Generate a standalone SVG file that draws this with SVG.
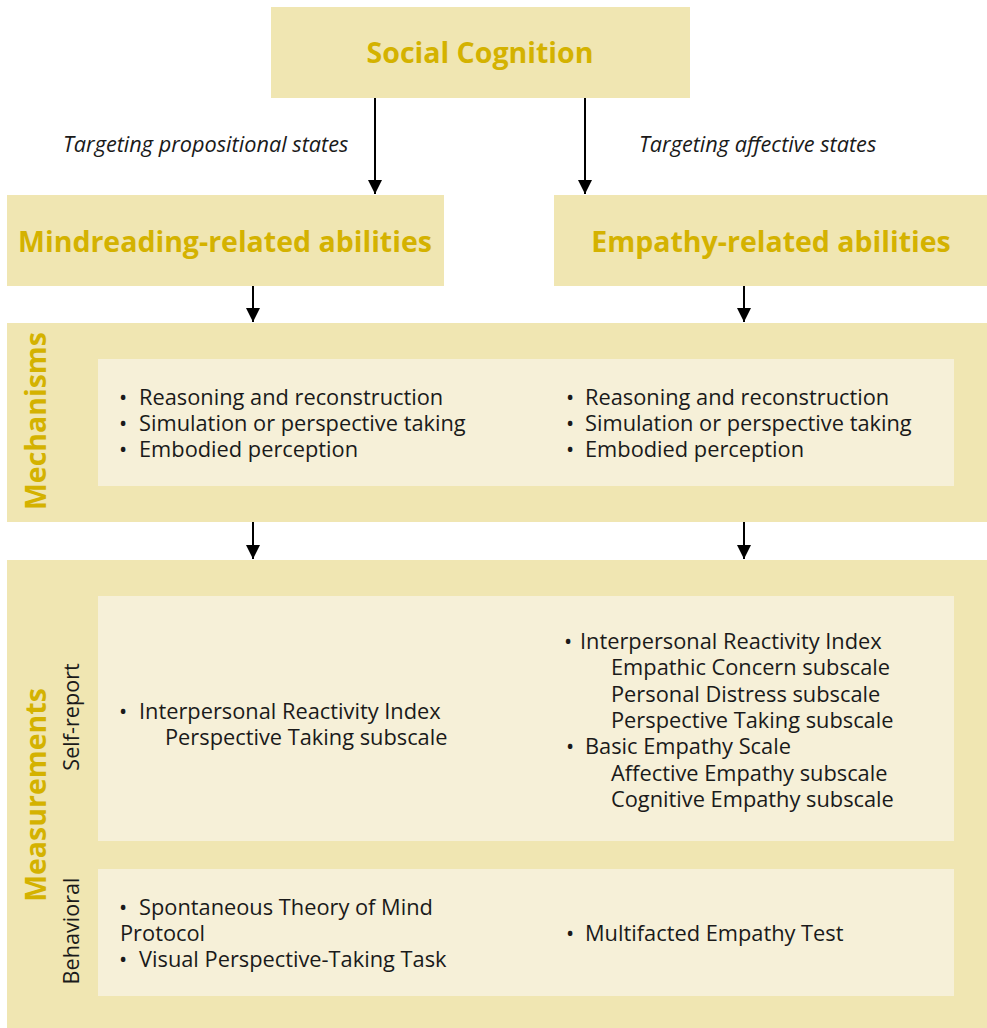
<svg xmlns="http://www.w3.org/2000/svg" width="987" height="1028" viewBox="0 0 987 1028">
  <style>
    .panel { fill: #F0E6B2; }
    .inner { fill: #F6F0D8; }
    .title { font-family: "Open Sans", "Noto Sans", sans-serif; font-weight: bold; font-size: 28.5px; fill: #D4B200; text-anchor: middle; }
    .side { font-family: "Open Sans", "Noto Sans", sans-serif; font-weight: bold; font-size: 28.5px; fill: #D4B200; text-anchor: middle; }
    .sub { font-family: "Open Sans", "Noto Sans", sans-serif; font-size: 21.6px; fill: #1a1a1a; text-anchor: middle; }
    .body { font-family: "Open Sans", "Noto Sans", sans-serif; font-size: 21.8px; fill: #1a1a1a; }
    .lbl { font-family: "Open Sans", "Noto Sans", sans-serif; font-style: italic; font-size: 21.7px; fill: #1a1a1a; }
    .conn { stroke: #000; stroke-width: 2; fill: none; marker-end: url(#arrow); }
  </style>
  <defs>
    <marker id="arrow" viewBox="0 0 10 10" refX="10" refY="5" markerWidth="14" markerHeight="14" markerUnits="userSpaceOnUse" orient="auto">
      <path d="M0,0 L10,5 L0,10 z" fill="#000"/>
    </marker>
  </defs>
  <rect width="987" height="1028" fill="#fff"/>

  <g id="social-cognition">
    <rect class="panel" x="271" y="7" width="419" height="91"/>
    <text class="title" x="480" y="63">Social Cognition</text>
  </g>

  <g id="mindreading">
    <rect class="panel" x="7" y="195" width="437" height="91"/>
    <text class="title" x="225" y="252">Mindreading-related abilities</text>
  </g>

  <g id="empathy">
    <rect class="panel" x="554" y="195" width="433" height="91"/>
    <text class="title" x="771" y="252">Empathy-related abilities</text>
  </g>

  <g id="mechanisms">
    <rect class="panel" x="7" y="323" width="980" height="199"/>
    <rect class="inner" x="98" y="359" width="856" height="127"/>
    <text class="side" transform="translate(46,421) rotate(-90)">Mechanisms</text>
    <text class="body">
      <tspan x="119" y="405">•</tspan><tspan x="139" y="405">Reasoning and reconstruction</tspan>
      <tspan x="119" y="431">•</tspan><tspan x="139" y="431">Simulation or perspective taking</tspan>
      <tspan x="119" y="457">•</tspan><tspan x="139" y="457">Embodied perception</tspan>
    </text>
    <text class="body">
      <tspan x="566" y="405">•</tspan><tspan x="585" y="405">Reasoning and reconstruction</tspan>
      <tspan x="566" y="431">•</tspan><tspan x="585" y="431">Simulation or perspective taking</tspan>
      <tspan x="566" y="457">•</tspan><tspan x="585" y="457">Embodied perception</tspan>
    </text>
  </g>

  <g id="measurements">
    <rect class="panel" x="7" y="560" width="980" height="468"/>
    <text class="side" transform="translate(46,795) rotate(-90)">Measurements</text>
  </g>

  <g id="self-report">
    <rect class="inner" x="98" y="596" width="856" height="245"/>
    <text class="sub" transform="translate(79,717) rotate(-90)">Self-report</text>
    <text class="body">
      <tspan x="119" y="719">•</tspan><tspan x="139" y="719">Interpersonal Reactivity Index</tspan>
      <tspan x="165" y="745">Perspective Taking subscale</tspan>
    </text>
    <text class="body">
      <tspan x="564" y="649">•</tspan><tspan x="580" y="649">Interpersonal Reactivity Index</tspan>
      <tspan x="611" y="675">Empathic Concern subscale</tspan>
      <tspan x="611" y="702">Personal Distress subscale</tspan>
      <tspan x="611" y="728">Perspective Taking subscale</tspan>
      <tspan x="566" y="754">•</tspan><tspan x="585" y="754">Basic Empathy Scale</tspan>
      <tspan x="611" y="781">Affective Empathy subscale</tspan>
      <tspan x="611" y="807">Cognitive Empathy subscale</tspan>
    </text>
  </g>

  <g id="behavioral">
    <rect class="inner" x="98" y="869" width="856" height="127"/>
    <text class="sub" transform="translate(79,931) rotate(-90)">Behavioral</text>
    <text class="body">
      <tspan x="119" y="915">•</tspan><tspan x="139" y="915">Spontaneous Theory of Mind</tspan>
      <tspan x="120" y="941">Protocol</tspan>
      <tspan x="119" y="967">•</tspan><tspan x="139" y="967">Visual Perspective-Taking Task</tspan>
    </text>
    <text class="body">
      <tspan x="566" y="941">•</tspan><tspan x="585" y="941">Multifacted Empathy Test</tspan>
    </text>
  </g>

  <g id="connectors">
    <line class="conn" x1="375" y1="98" x2="375" y2="194"/>
    <line class="conn" x1="585" y1="98" x2="585" y2="194"/>
    <line class="conn" x1="253" y1="286" x2="253" y2="322"/>
    <line class="conn" x1="744" y1="286" x2="744" y2="322"/>
    <line class="conn" x1="253" y1="522" x2="253" y2="559"/>
    <line class="conn" x1="744" y1="522" x2="744" y2="559"/>
    <text class="lbl" x="63" y="152">Targeting propositional states</text>
    <text class="lbl" x="639" y="152">Targeting affective states</text>
  </g>
</svg>
